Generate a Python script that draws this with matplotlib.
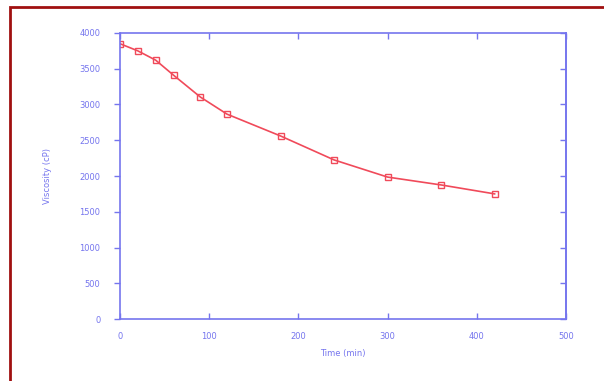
import matplotlib.pyplot as plt
from matplotlib.patches import Rectangle

# Data
time_min = [0, 20, 40, 60, 90, 120, 180, 240, 300, 360, 420]
viscosity = [3850, 3750, 3620, 3410, 3105, 2865, 2560, 2225, 1985, 1875, 1750]
x_ticks = [0, 100, 200, 300, 400, 500]
y_ticks = [0, 500, 1000, 1500, 2000, 2500, 3000, 3500, 4000]

axis_color = '#7575ee'
line_color = '#f04a5a'

fig = plt.figure(figsize=(6.04, 3.81), dpi=100)
ax = fig.add_axes([0.1987, 0.1627, 0.7383, 0.7507])

ax.plot(time_min, viscosity, color=line_color, linewidth=1.2,
        marker='s', markersize=5, markerfacecolor='none',
        markeredgecolor=line_color, markeredgewidth=1.0)

ax.set_xlim(0, 500)
ax.set_ylim(0, 4000)
ax.set_xticks(x_ticks)
ax.set_yticks(y_ticks)

for side in ax.spines.values():
    side.set_color(axis_color)
    side.set_linewidth(1.2)

ax.tick_params(axis='both', colors=axis_color, labelsize=6, length=4, width=1)
ax.tick_params(axis='y', direction='out', pad=10)
ax.tick_params(axis='x', direction='in', top=True, pad=9)

# right-hand ticks point inward, so they go on a twin axis
ax_r = ax.twinx()
ax_r.set_ylim(0, 4000)
ax_r.set_yticks(y_ticks)
ax_r.tick_params(axis='y', direction='in', colors=axis_color, length=4,
                 width=1, labelright=False)
for name, side in ax_r.spines.items():
    side.set_visible(name == 'right')
ax_r.spines['right'].set_color(axis_color)
ax_r.spines['right'].set_linewidth(1.2)

ax.set_xlabel('Time (min)', color=axis_color, fontsize=6, labelpad=6)
ax.set_ylabel('Viscosity (cP)', color=axis_color, fontsize=6, labelpad=20)

# dark red frame around the picture (display coords, origin bottom-left)
fig.patches.append(Rectangle((10, -50), 650, 424, transform=None, fill=False,
                             edgecolor='#a01010', linewidth=2))

fig.savefig('out.png', dpi=100)
